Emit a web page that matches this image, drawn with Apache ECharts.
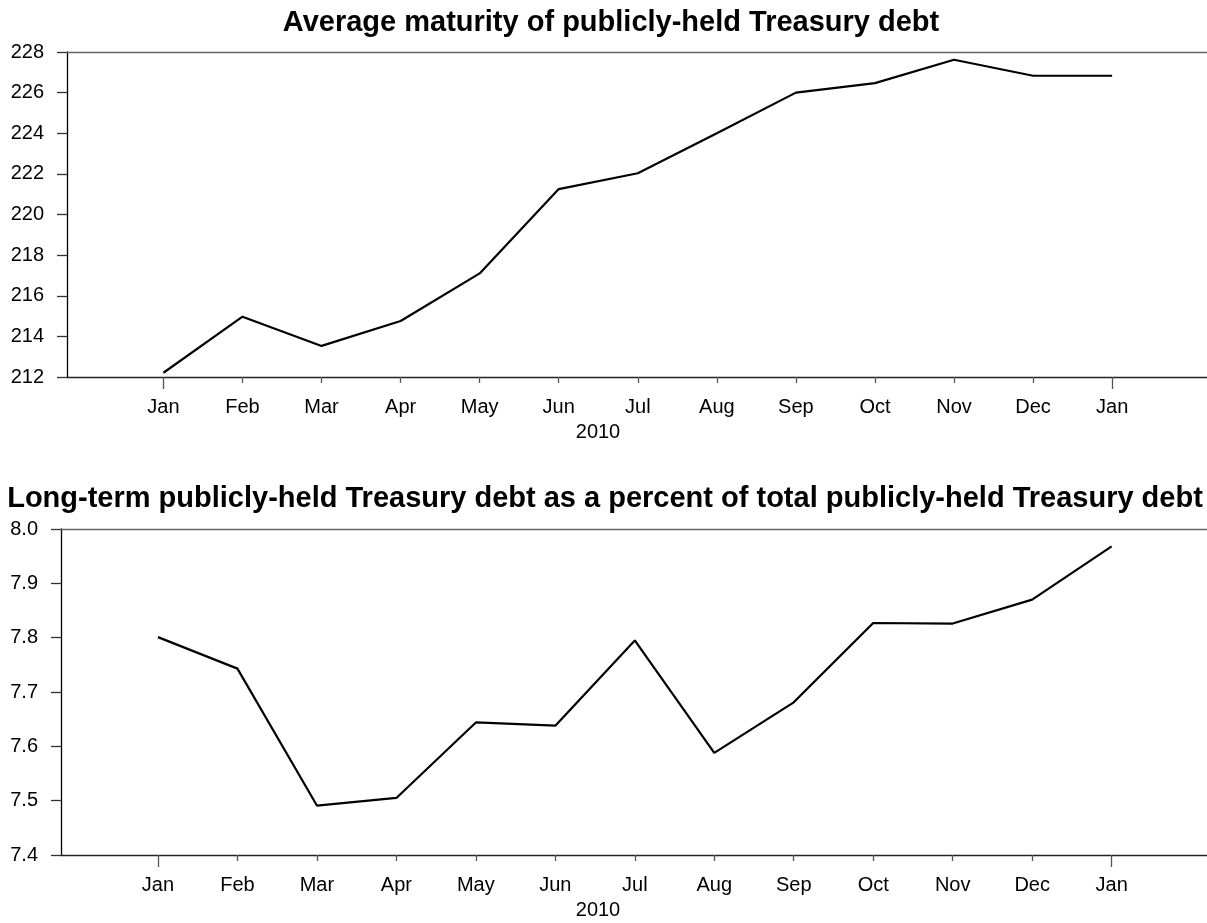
<!DOCTYPE html>
<html>
<head>
<meta charset="utf-8">
<script src="https://cdn.jsdelivr.net/npm/echarts@6/dist/echarts.min.js"></script>
<style>
	html, body { margin: 0; padding: 0; background: #fff; }
	#draw { width: 1207px; height: 923px; }
</style>
</head>
<body>
<div id="draw"></div>
<script>
	// month ticks, Jan 2010 .. Jan 2011
	var months = ['Jan', 'Feb', 'Mar', 'Apr', 'May', 'Jun', 'Jul', 'Aug', 'Sep', 'Oct', 'Nov', 'Dec', 'Jan'];
	// average maturity (months)
	var avgMaturity = [212.21, 214.97, 213.53, 214.76, 217.10, 221.25, 222.03, 224.00, 226.00, 226.47, 227.62, 226.83, 226.83];
	// long-term debt share (percent)
	var longTermPct = [7.801, 7.743, 7.491, 7.505, 7.644, 7.638, 7.795, 7.588, 7.681, 7.827, 7.826, 7.870, 7.968];

	var font = 'Liberation Sans, Arial, sans-serif';
	var xMin = -1.22, xMax = 13.2;
	var allIdx = months.map(function (m, i) { return i; });
	var minorIdx = allIdx.slice(1, 12);

	function pairs(arr) {
		return arr.map(function (v, i) { return [i, v]; });
	}

	// three x axes per panel: main (line, labels, long Jan ticks), short ticks, top border
	function xAxes(grid) {
		return [{
			type: 'value', gridIndex: grid, position: 'bottom', min: xMin, max: xMax,
			axisLine: { onZero: false, lineStyle: { color: '#222', width: 1.3 } },
			axisTick: { customValues: [0, 12], length: 12, lineStyle: { color: '#555', width: 1.3 } },
			axisLabel: {
				customValues: allIdx, margin: 20, color: '#000', fontSize: 20, fontFamily: font,
				formatter: function (v) { return months[Math.round(v)]; }
			},
			splitLine: { show: false }
		}, {
			type: 'value', gridIndex: grid, position: 'bottom', min: xMin, max: xMax,
			axisLine: { show: false, onZero: false },
			axisTick: { customValues: minorIdx, length: 6, lineStyle: { color: '#555', width: 1.3 } },
			axisLabel: { show: false },
			splitLine: { show: false }
		}, {
			type: 'value', gridIndex: grid, position: 'top', min: xMin, max: xMax,
			axisLine: { onZero: false, lineStyle: { color: '#666', width: 1.3 } },
			axisTick: { show: false },
			axisLabel: { show: false },
			splitLine: { show: false }
		}];
	}

	function yAxis(grid, min, max, step, digits) {
		return {
			type: 'value', gridIndex: grid, min: min, max: max, interval: step,
			axisLine: { show: true, onZero: false, lineStyle: { color: '#000', width: 1.3 } },
			axisTick: { show: true, length: 10, lineStyle: { color: '#333', width: 1.3 } },
			axisLabel: {
				margin: 23, color: '#000', fontSize: 20, fontFamily: font,
				formatter: function (v) { return v.toFixed(digits); }
			},
			splitLine: { show: false }
		};
	}

	var myChart = echarts.init(document.getElementById('draw'));
	myChart.setOption({
		animation: false,
		backgroundColor: '#fff',
		title: [{
			text: 'Average maturity of publicly-held Treasury debt',
			left: 606, top: 3, textAlign: 'center',
			textStyle: { fontFamily: font, fontSize: 29, fontWeight: 'bold', color: '#000' }
		}, {
			text: 'Long-term publicly-held Treasury debt as a percent of total publicly-held Treasury debt',
			left: 600, top: 479, textAlign: 'center',
			textStyle: { fontFamily: font, fontSize: 29, fontWeight: 'bold', color: '#000' }
		}],
		graphic: [{
			type: 'text', x: 598, y: 432,
			style: { text: '2010', fontFamily: font, fontSize: 20, fill: '#000', align: 'center', verticalAlign: 'middle' }
		}, {
			type: 'text', x: 598, y: 910,
			style: { text: '2010', fontFamily: font, fontSize: 20, fill: '#000', align: 'center', verticalAlign: 'middle' }
		}],
		grid: [
			{ left: 67, right: 0, top: 52, height: 325, outerBoundsMode: 'none' },
			{ left: 61, right: 0, top: 529, height: 326, outerBoundsMode: 'none' }
		],
		xAxis: xAxes(0).concat(xAxes(1)),
		yAxis: [
			yAxis(0, 212, 228, 2, 0),
			yAxis(1, 7.4, 8.0, 0.1, 1)
		],
		series: [{
			type: 'line', xAxisIndex: 0, yAxisIndex: 0,
			data: pairs(avgMaturity),
			symbol: 'none',
			lineStyle: { color: '#000', width: 2.2 }
		}, {
			type: 'line', xAxisIndex: 3, yAxisIndex: 1,
			data: pairs(longTermPct),
			symbol: 'none',
			lineStyle: { color: '#000', width: 2.2 }
		}]
	});
</script>
</body>
</html>
